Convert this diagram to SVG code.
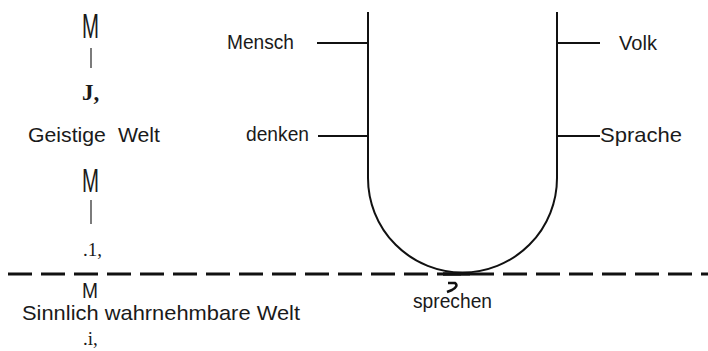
<svg xmlns="http://www.w3.org/2000/svg" width="708" height="351" viewBox="0 0 708 351">
  <style>
    .lbl { font-family: "Liberation Sans", Arial, sans-serif; fill: #1a1a1a; }
    .ser { font-family: "Liberation Serif", "Times New Roman", serif; fill: #1a1a1a; }
    .line { fill: none; stroke: #111; stroke-width: 2; }
    .tick { fill: none; stroke: #111; stroke-width: 2; }
    .bar { fill: none; stroke: #444; stroke-width: 1.4; }
    .dash { fill: none; stroke: #111; stroke-width: 2.8; stroke-dasharray: 24 9; }
  </style>

  <rect width="708" height="351" fill="#fff"/>

  <!-- left column: M | J, ... -->
  <g id="left-column">
    <text class="lbl" x="82" y="38" font-size="35" textLength="17" lengthAdjust="spacingAndGlyphs">M</text>
    <line class="bar" x1="91" y1="48" x2="91" y2="68"/>
    <text class="ser" x="82" y="100" font-size="23" font-weight="bold">J,</text>
    <text class="lbl" x="28" y="142" font-size="21" word-spacing="6" textLength="132" lengthAdjust="spacingAndGlyphs">Geistige Welt</text>
    <text class="lbl" x="82" y="192" font-size="34" textLength="17" lengthAdjust="spacingAndGlyphs">M</text>
    <line class="bar" x1="91" y1="200" x2="91" y2="224"/>
    <text class="ser" x="83" y="256" font-size="19">.1,</text>
  </g>

  <g id="lower-column">
    <text class="lbl" x="82" y="298" font-size="22" textLength="16" lengthAdjust="spacingAndGlyphs">M</text>
    <text class="lbl" x="22" y="320" font-size="21" textLength="278" lengthAdjust="spacingAndGlyphs">Sinnlich wahrnehmbare Welt</text>
    <text class="ser" x="83" y="345" font-size="19">.i,</text>
  </g>

  <!-- U-shaped vessel -->
  <g id="vessel">
    <path class="line" d="M368,12 V178 A94.5,94.5 0 0 0 557,178 V12"/>
  </g>

  <g id="mensch">
    <text class="lbl" x="227" y="49" font-size="21" textLength="67" lengthAdjust="spacingAndGlyphs">Mensch</text>
  </g>
  <g id="denken">
    <text class="lbl" x="246" y="141" font-size="20" textLength="63" lengthAdjust="spacingAndGlyphs">denken</text>
  </g>
  <g id="volk">
    <text class="lbl" x="619" y="50" font-size="21" textLength="38" lengthAdjust="spacingAndGlyphs">Volk</text>
  </g>
  <g id="sprache">
    <text class="lbl" x="600" y="142" font-size="21" textLength="82" lengthAdjust="spacingAndGlyphs">Sprache</text>
  </g>
  <g id="sprechen">
    <text class="lbl" x="413" y="308" font-size="20" textLength="79" lengthAdjust="spacingAndGlyphs">sprechen</text>
    <path d="M448,283 L455,283 Q459,286 452,290 L447,292" fill="none" stroke="#111" stroke-width="2.5"/>
  </g>

  <!-- connectors -->
  <g id="connectors">
    <line class="tick" x1="317" y1="43" x2="368" y2="43"/>
    <line class="tick" x1="318" y1="136" x2="368" y2="136"/>
    <line class="tick" x1="557" y1="43" x2="600" y2="43"/>
    <line class="tick" x1="557" y1="136" x2="600" y2="136"/>
    <line class="dash" x1="8" y1="274" x2="708" y2="274"/>
    <line x1="443" y1="274" x2="470" y2="274" stroke="#111" stroke-width="3.5"/>
  </g>
</svg>
